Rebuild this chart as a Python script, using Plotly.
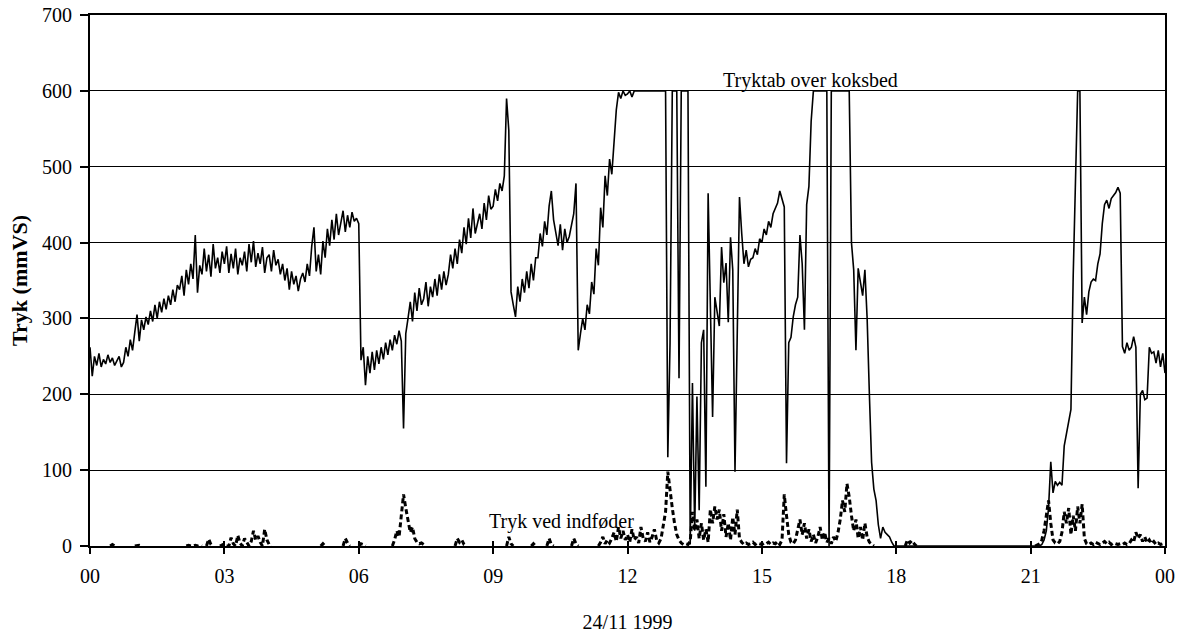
import pandas as pd
import plotly.graph_objects as go

# Sampling grid: one reading every 3 minutes over 24/11 1999
tid = pd.date_range("1999-11-24 00:00", "1999-11-25 00:00", freq="3min")

# Tryktab over koksbed (mmVS), one row per hour, 20 readings each
tryktab_rows = [
    [262, 224, 250, 238, 254, 236, 246, 240, 252, 242, 248, 238, 244, 250, 236, 242, 262, 250, 272, 258],
    [282, 305, 270, 298, 285, 302, 292, 310, 296, 318, 300, 322, 308, 326, 312, 330, 318, 338, 322, 344],
    [338, 356, 330, 364, 345, 372, 352, 410, 334, 370, 358, 392, 362, 384, 355, 398, 366, 380, 360, 388],
    [372, 395, 360, 385, 366, 392, 358, 380, 370, 388, 362, 398, 374, 402, 368, 386, 372, 394, 360, 380],
    [384, 362, 390, 370, 378, 358, 372, 350, 366, 338, 362, 345, 356, 336, 352, 360, 348, 372, 356, 395],
    [420, 362, 384, 358, 402, 380, 418, 396, 430, 404, 438, 410, 426, 442, 414, 436, 420, 440, 428, 432],
    [425, 245, 262, 212, 250, 228, 256, 232, 258, 240, 262, 246, 268, 252, 272, 258, 278, 266, 284, 270],
    [155, 280, 300, 322, 296, 334, 310, 340, 318, 326, 348, 316, 342, 328, 352, 330, 358, 338, 362, 344],
    [358, 384, 366, 392, 372, 404, 386, 420, 398, 432, 406, 445, 412, 424, 438, 418, 452, 430, 462, 444],
    [448, 470, 455, 478, 468, 488, 590, 548, 335, 318, 302, 342, 322, 352, 334, 362, 340, 372, 350, 380],
    [380, 412, 395, 428, 410, 448, 468, 430, 412, 396, 424, 390, 418, 400, 408, 422, 438, 478, 258, 280],
    [300, 285, 318, 306, 348, 332, 392, 370, 446, 420, 488, 462, 510, 490, 540, 575, 598, 590, 600, 594],
    [596, 600, 592, 600, 600, 600, 600, 600, 600, 600, 600, 600, 600, 600, 600, 600, 600, 600, 117, 268],
    [600, 600, 600, 221, 600, 600, 600, 600, 2, 215, 20, 197, 47, 268, 285, 78, 465, 302, 170, 328],
    [310, 290, 394, 347, 373, 295, 407, 364, 98, 258, 460, 412, 372, 390, 368, 378, 380, 392, 384, 405],
    [400, 418, 410, 428, 420, 438, 444, 452, 468, 458, 447, 109, 268, 275, 302, 318, 328, 410, 372, 285],
    [450, 474, 560, 600, 600, 600, 600, 600, 600, 600, 0, 600, 600, 600, 600, 600, 600, 600, 600, 600],
    [400, 364, 258, 366, 348, 330, 364, 300, 200, 110, 75, 60, 28, 10, 25, 18, 15, 12, 5, 0],
    [0, 0, 0, 0, 0, 0, 0, 0, 0, 0, 0, 0, 0, 0, 0, 0, 0, 0, 0, 0],
    [0, 0, 0, 0, 0, 0, 0, 0, 0, 0, 0, 0, 0, 0, 0, 0, 0, 0, 0, 0],
    [0, 0, 0, 0, 0, 0, 0, 0, 0, 0, 0, 0, 0, 0, 0, 0, 0, 0, 0, 0],
    [0, 0, 0, 0, 0, 2, 8, 20, 50, 111, 70, 85, 80, 84, 80, 132, 150, 168, 180, 355],
    [480, 600, 600, 294, 328, 305, 335, 348, 352, 350, 372, 385, 425, 450, 456, 445, 458, 462, 466, 473],
    [465, 263, 254, 268, 258, 262, 276, 262, 76, 200, 205, 193, 195, 262, 254, 256, 241, 258, 236, 254],
]
tryktab_slut = 228  # reading at 00:00 the next day

# Tryk ved indføder (mmVS), same grid
indfoder_rows = [
    [0, 0, 0, 0, 0, 0, 0, 0, 0, 0, 2, 0, 0, 0, 0, 0, 0, 0, 0, 0],
    [0, 1, 1, 0, 0, 0, 0, 0, 0, 0, 0, 0, 0, 0, 0, 0, 0, 0, 0, 0],
    [0, 0, 0, 0, 1, 0, 0, 1, 0, 1, 0, 0, 0, 9, 2, 0, 0, 0, 0, 2],
    [3, 0, 0, 11, 3, 0, 14, 4, 0, 10, 4, 0, 6, 20, 8, 13, 5, 0, 22, 8],
    [2, 0, 0, 0, 0, 0, 0, 0, 0, 0, 0, 0, 0, 0, 0, 0, 0, 0, 0, 0],
    [0, 0, 0, 0, 3, 0, 0, 0, 0, 0, 0, 0, 0, 0, 10, 4, 0, 0, 0, 0],
    [0, 3, 2, 0, 0, 0, 0, 0, 0, 0, 0, 0, 0, 0, 0, 0, 8, 20, 12, 40],
    [68, 50, 35, 18, 25, 10, 5, 3, 4, 2, 0, 0, 0, 0, 0, 0, 0, 0, 0, 0],
    [0, 0, 0, 0, 10, 5, 8, 2, 0, 0, 0, 0, 0, 0, 0, 0, 0, 0, 0, 0],
    [0, 0, 0, 0, 0, 0, 0, 12, 3, 0, 0, 0, 0, 0, 0, 0, 0, 0, 3, 0],
    [0, 0, 0, 0, 0, 10, 2, 0, 0, 0, 0, 0, 0, 0, 0, 0, 10, 3, 0, 0],
    [0, 0, 0, 0, 0, 0, 0, 0, 5, 12, 3, 8, 4, 10, 18, 6, 25, 10, 20, 8],
    [15, 5, 22, 8, 12, 4, 25, 10, 6, 18, 5, 12, 22, 8, 4, 10, 30, 45, 98, 70],
    [50, 30, 15, 8, 4, 2, 3, 2, 6, 45, 20, 35, 10, 30, 8, 22, 5, 48, 30, 52],
    [35, 48, 20, 42, 12, 30, 8, 38, 15, 48, 10, 5, 2, 4, 2, 3, 5, 2, 4, 3],
    [2, 4, 3, 5, 2, 4, 3, 6, 2, 8, 68, 40, 15, 5, 3, 8, 20, 35, 15, 30],
    [10, 22, 6, 15, 4, 12, 25, 8, 18, 5, 10, 3, 12, 6, 18, 35, 60, 45, 82, 65],
    [40, 20, 35, 10, 25, 8, 30, 12, 5, 2, 0, 0, 0, 0, 0, 0, 0, 0, 0, 0],
    [0, 0, 0, 0, 0, 8, 4, 7, 3, 0, 0, 0, 0, 0, 0, 0, 0, 0, 0, 0],
    [0, 0, 0, 0, 0, 0, 0, 0, 0, 0, 0, 0, 0, 0, 0, 0, 0, 0, 0, 0],
    [0, 0, 0, 0, 0, 0, 0, 0, 0, 0, 0, 0, 0, 0, 0, 0, 0, 0, 0, 0],
    [0, 0, 0, 2, 3, 8, 20, 40, 60, 30, 8, 4, 3, 6, 18, 45, 30, 50, 15, 40],
    [20, 52, 30, 55, 10, 3, 2, 4, 2, 5, 3, 2, 4, 6, 3, 5, 2, 4, 3, 2],
    [3, 2, 4, 2, 3, 8, 5, 18, 10, 15, 6, 12, 4, 8, 3, 6, 2, 4, 2, 3],
]
indfoder_slut = 2

tryktab = [v for row in tryktab_rows for v in row] + [tryktab_slut]
indfoder = [v for row in indfoder_rows for v in row] + [indfoder_slut]

# Zero readings that lie along the axis between other zeros are left undrawn
indfoder_vis = []
for i, v in enumerate(indfoder):
    left = indfoder[i - 1] if i > 0 else 0
    right = indfoder[i + 1] if i < len(indfoder) - 1 else 0
    indfoder_vis.append(None if (v == 0 and left == 0 and right == 0) else v)

serif = "Liberation Serif, Times New Roman, serif"

fig = go.Figure()
fig.add_trace(go.Scatter(
    x=tid, y=indfoder_vis, mode="lines", xaxis="x2",
    line=dict(color="black", width=3, dash="5px,3px"),
    connectgaps=False, name="Tryk ved indføder",
))
fig.add_trace(go.Scatter(
    x=tid, y=tryktab, mode="lines",
    line=dict(color="black", width=1.6),
    name="Tryktab over koksbed",
))

start, slut = tid[0], tid[-1]
three_h = 3 * 3600 * 1000

fig.update_layout(
    template="none",
    width=1186, height=639,
    margin=dict(l=90, r=21, t=15, b=93),
    paper_bgcolor="white", plot_bgcolor="white",
    font=dict(family=serif, size=20, color="black"),
    showlegend=False,
    xaxis=dict(
        type="date", range=[start, slut], tick0=start, dtick=three_h,
        tickformat="%H", ticks="outside", ticklen=6, tickwidth=1.5,
        tickcolor="black", showline=True, linecolor="black", linewidth=2,
        mirror=True, showgrid=False, zeroline=False, automargin=False,
        ticklabelstandoff=5,
        title=dict(text="24/11 1999", standoff=29, font=dict(size=20)),
    ),
    xaxis2=dict(
        type="date", range=[start, slut], tick0=start, dtick=three_h,
        overlaying="x", side="bottom", ticks="inside", ticklen=5,
        tickwidth=1.5, tickcolor="black", showticklabels=False,
        showline=False, showgrid=False, zeroline=False, automargin=False,
    ),
    yaxis=dict(
        range=[0, 700], dtick=100, ticks="outside", ticklen=8,
        tickwidth=1.5, tickcolor="black", showline=True, linecolor="black",
        linewidth=2, mirror=True, showgrid=True, gridcolor="black",
        gridwidth=1, zeroline=False, automargin=False, ticklabelstandoff=4,
        title=dict(text="<b>Tryk (mmVS)</b>", standoff=8, font=dict(size=22)),
    ),
    annotations=[
        dict(x=pd.Timestamp("1999-11-24 16:05"), y=614, text="Tryktab over koksbed",
             showarrow=False, xanchor="center", yanchor="middle",
             font=dict(family=serif, size=20, color="black")),
        dict(x=pd.Timestamp("1999-11-24 10:32"), y=32, text="Tryk ved indføder",
             showarrow=False, xanchor="center", yanchor="middle",
             font=dict(family=serif, size=20, color="black")),
    ],
)

fig.write_html("out.html")
